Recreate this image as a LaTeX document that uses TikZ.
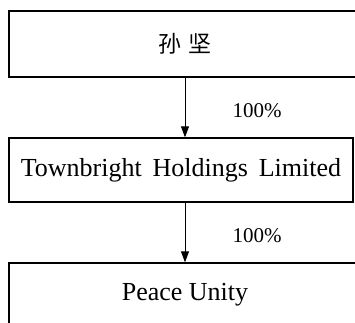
\documentclass[tikz,border=0pt]{standalone}
\usepackage{fontspec}
\setmainfont{Liberation Serif}
\newfontfamily\cjk{Noto Sans CJK SC}
\usepackage{tikz}
\usetikzlibrary{arrows.meta}

\begin{document}
\begin{tikzpicture}[x=1pt,y=-1pt,
  entity/.style={draw,line width=1.4pt,inner sep=0pt,font=\fontsize{26}{31}\selectfont},
  share/.style={font=\fontsize{21}{25}\selectfont}]
\useasboundingbox (0,0) rectangle (355,322);
\clip (0,0) rectangle (355,322);
\node[entity,minimum width=352pt,minimum height=66pt] (A) at (185,44) {{\cjk\fontsize{23}{27}\selectfont 孙\,\,坚}};
\node[entity,minimum width=344pt,minimum height=64pt] (B) at (181,170) {Townbright\ \,Holdings\ \,Limited};
\node[entity,minimum width=352pt,minimum height=64pt] (C) at (185,295) {Peace Unity};
\node[share] (P1) at (257,111) {100\%};
\node[share] (P2) at (257,236) {100\%};
\draw [-{Triangle[width=8pt,length=11pt]},line width=0.9pt] (A.south) -- (A.south |- B.north);
\draw [-{Triangle[width=8pt,length=11pt]},line width=0.9pt] (A.south |- B.south) -- (A.south |- C.north);
\end{tikzpicture}
\end{document}
